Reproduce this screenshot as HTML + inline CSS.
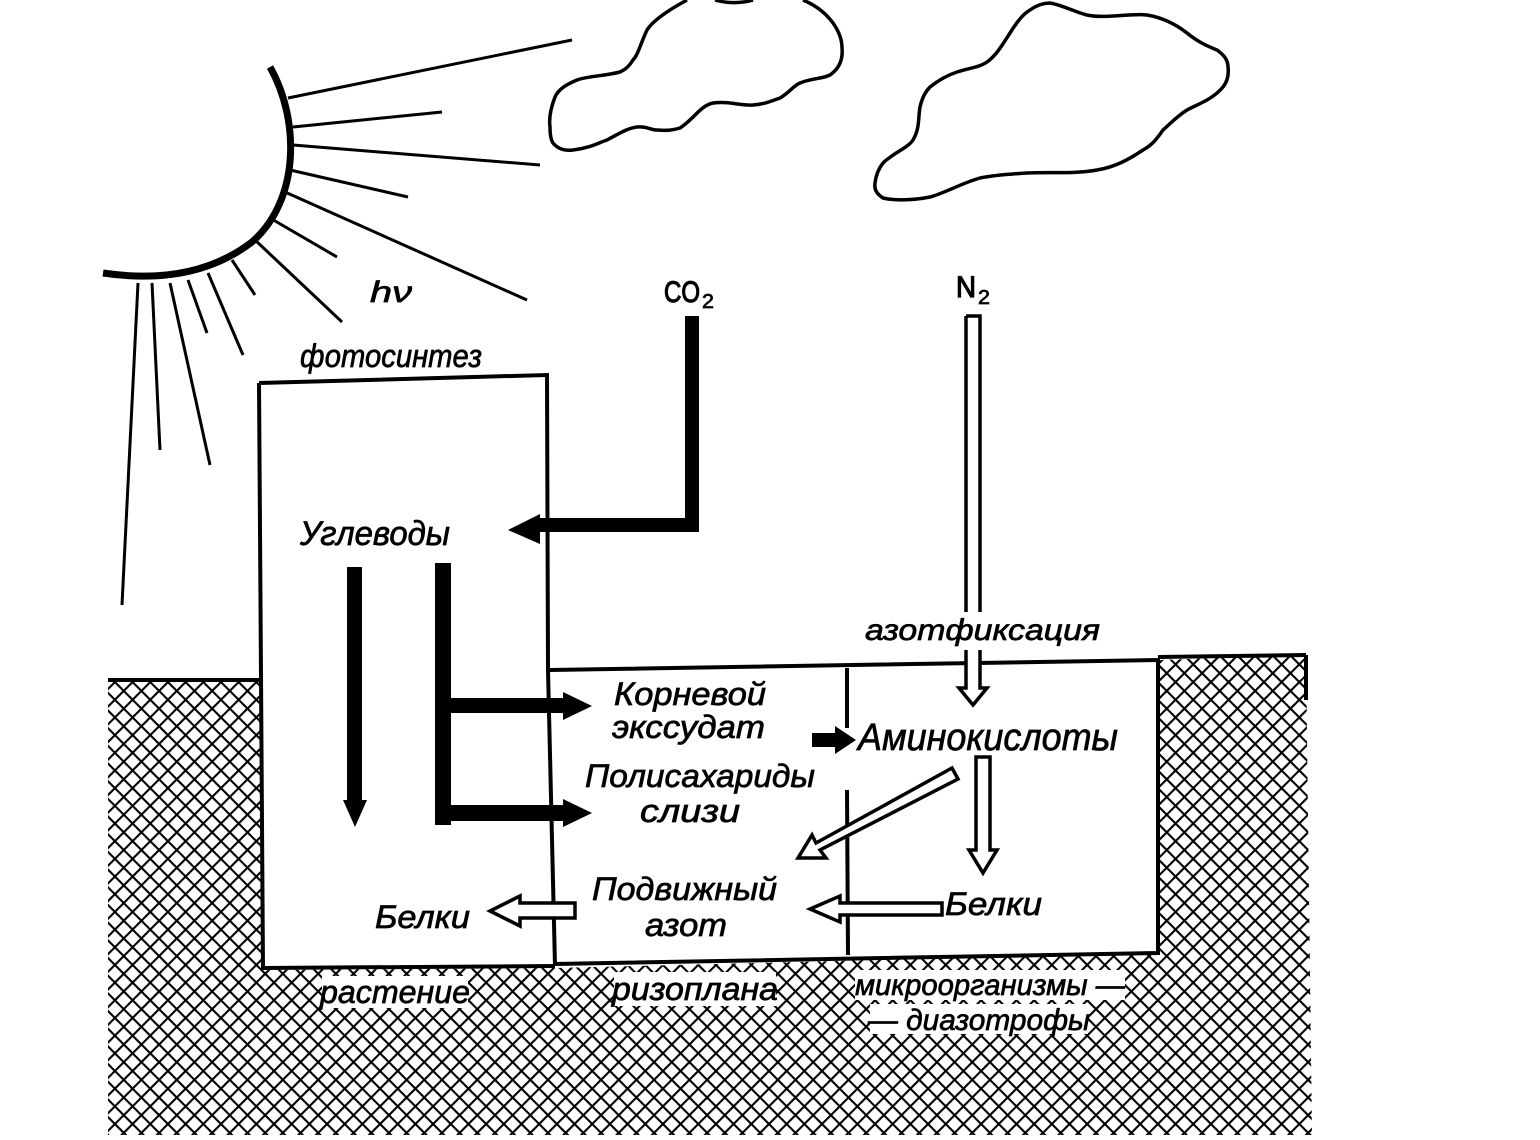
<!DOCTYPE html>
<html><head><meta charset="utf-8"><style>
html,body{margin:0;padding:0;background:#fff;}
svg{display:block;}
text{font-family:"Liberation Sans","DejaVu Sans",sans-serif;font-style:italic;fill:#000;stroke:#000;stroke-width:0.7;}
</style></head><body>
<svg width="1540" height="1140" viewBox="0 0 1540 1140" xmlns="http://www.w3.org/2000/svg">
<defs>
<pattern id="h" width="12.5" height="12.5" patternUnits="userSpaceOnUse" patternTransform="rotate(45)">
<line x1="0" y1="0" x2="0" y2="12.5" stroke="#000" stroke-width="4.2"/>
<line x1="0" y1="0" x2="12.5" y2="0" stroke="#000" stroke-width="4.2"/>
</pattern>
</defs>
<polygon points="108,680 262,680 263,970 555,968 1158,953 1158,660 1306,655 1312,1135 108,1135" fill="url(#h)"/>
<g stroke="#000" stroke-width="4" fill="none">
<line x1="108" y1="680" x2="262" y2="680"/>
<line x1="1158" y1="657" x2="1306" y2="655"/>
<line x1="1306" y1="655" x2="1306" y2="700"/>
<polyline points="259,383 547,375 548,670"/>
<line x1="259" y1="383" x2="263" y2="970"/>
<line x1="263" y1="968" x2="555" y2="966"/>
<line x1="548" y1="670" x2="555" y2="966"/>
<polyline points="550,670 1158,660 1158,953 555,964"/>
<line x1="847" y1="668" x2="847" y2="728"/>
<line x1="847" y1="790" x2="848" y2="955"/>
</g>
<path d="M270,67 C300,120 300,200 252,242 C218,268 170,283 103,273" stroke="#000" stroke-width="7" fill="none"/>
<g stroke="#000" stroke-width="3" fill="none">
<line x1="288" y1="98" x2="572" y2="40"/>
<line x1="293" y1="127" x2="442" y2="112"/>
<line x1="293" y1="145" x2="540" y2="165"/>
<line x1="290" y1="170" x2="408" y2="197"/>
<line x1="285" y1="192" x2="527" y2="300"/>
<line x1="270" y1="218" x2="337" y2="257"/>
<line x1="255" y1="240" x2="342" y2="322"/>
<line x1="232" y1="260" x2="255" y2="295"/>
<line x1="208" y1="273" x2="243" y2="355"/>
<line x1="188" y1="280" x2="207" y2="333"/>
<line x1="170" y1="283" x2="210" y2="465"/>
<line x1="152" y1="283" x2="160" y2="450"/>
<line x1="138" y1="283" x2="122" y2="605"/>
</g>
<g stroke="#000" stroke-width="3.5" fill="none">
<path d="M687,0 C665,12 652,22 647,30 C640,45 638,55 633,60 C628,68 624,70 620,72 C605,76 588,76 577,80 C565,85 558,90 555,97 C550,110 549,120 550,127 C550,135 551,140 553,143 C558,149 565,151 573,150 C590,148 598,143 607,140 C620,133 628,128 637,127 C647,126 650,130 657,130 C668,131 673,130 680,128 C695,118 700,106 713,103 C730,101 740,106 753,105 C765,104 772,101 780,98 C790,92 793,86 800,83 C812,78 822,79 830,75 C840,68 843,58 842,48 C842,38 838,30 833,23 C825,12 815,5 803,0"/>
<path d="M753,0 C740,4 725,3 715,0"/>
<path d="M1050,3 C1062,5 1075,12 1087,15 C1105,19 1130,13 1147,15 C1165,18 1178,26 1187,33 C1198,42 1207,46 1217,50 C1224,55 1228,60 1228,67 C1229,75 1227,82 1223,87 C1212,100 1198,104 1187,110 C1176,117 1170,124 1163,130 C1156,140 1152,145 1143,150 C1128,160 1115,167 1097,170 C1075,174 1050,172 1027,173 C1010,174 995,175 980,178 C962,183 945,193 930,197 C915,200 895,201 883,198 C877,194 874,190 875,183 C876,175 879,168 883,163 C893,153 908,148 913,140 C920,128 918,118 920,107 C922,98 925,92 930,87 C940,79 948,75 957,72 C970,68 980,67 987,62 C997,55 1004,42 1010,33 C1017,22 1023,14 1030,10 C1037,5 1043,3 1050,3 Z"/>
</g>
<path d="M685,316 H699 V532 H540 V518 H685 Z" fill="#000"/>
<polygon points="508,530 540,514 540,544" fill="#000"/>
<rect x="347" y="567" width="15" height="240" fill="#000"/>
<polygon points="343,800 367,800 355,827" fill="#000"/>
<rect x="435" y="563" width="16" height="262" fill="#000"/>
<rect x="435" y="698" width="130" height="15" fill="#000"/>
<polygon points="563,692 592,706 563,720" fill="#000"/>
<rect x="435" y="805" width="130" height="16" fill="#000"/>
<polygon points="563,799 592,813 563,827" fill="#000"/>
<path d="M812,733 H835 V726 L856,740 L835,754 V747 H812 Z" fill="#000"/>
<g stroke="#000" stroke-width="3.5" fill="#fff" stroke-linejoin="miter">
<path d="M966,316 H980 V612 M966,316 V612"/>
<path d="M966,650 V688 H959 L973,705 L987,688 H980 V650"/>
<path d="M976,757 H990 V850 H997 L983,873 L969,850 H976 Z"/>
<path d="M575,903 H520 V896 L490,911 L520,926 V918 H575 Z"/>
<path d="M942,903 H840 V896 L810,909 L840,922 V915 H942 Z"/>
<path d="M952,768 L958,779 L820,850 L826,858 L798,858 L812,835 L816,843 Z"/>
</g>
<text x="370" y="302" font-size="30" textLength="42" lengthAdjust="spacingAndGlyphs">hν</text>
<text x="664" y="302" font-size="30" style="font-style:normal;stroke-width:1.2" textLength="36" lengthAdjust="spacingAndGlyphs">CO</text>
<text x="702" y="308" font-size="20" style="font-style:normal" textLength="12" lengthAdjust="spacingAndGlyphs">2</text>
<text x="956" y="297" font-size="30" style="font-style:normal;stroke-width:1.2" textLength="20" lengthAdjust="spacingAndGlyphs">N</text>
<text x="978" y="304" font-size="20" style="font-style:normal" textLength="12" lengthAdjust="spacingAndGlyphs">2</text>
<text x="300" y="367" font-size="32" textLength="182" lengthAdjust="spacingAndGlyphs">фотосинтез</text>
<text x="300" y="545" font-size="34" textLength="150" lengthAdjust="spacingAndGlyphs">Углеводы</text>
<text x="865" y="640" font-size="30" textLength="235" lengthAdjust="spacingAndGlyphs">азотфиксация</text>
<text x="614" y="705" font-size="32" textLength="152" lengthAdjust="spacingAndGlyphs">Корневой</text>
<text x="612" y="738" font-size="32" textLength="153" lengthAdjust="spacingAndGlyphs">экссудат</text>
<text x="585" y="787" font-size="32" textLength="230" lengthAdjust="spacingAndGlyphs">Полисахариды</text>
<text x="640" y="822" font-size="32" textLength="100" lengthAdjust="spacingAndGlyphs">слизи</text>
<text x="858" y="750" font-size="38" textLength="260" lengthAdjust="spacingAndGlyphs">Аминокислоты</text>
<text x="592" y="900" font-size="32" textLength="185" lengthAdjust="spacingAndGlyphs">Подвижный</text>
<text x="645" y="936" font-size="32" textLength="82" lengthAdjust="spacingAndGlyphs">азот</text>
<text x="375" y="928" font-size="32" textLength="95" lengthAdjust="spacingAndGlyphs">Белки</text>
<text x="945" y="915" font-size="32" textLength="97" lengthAdjust="spacingAndGlyphs">Белки</text>
<g fill="#fff">
<rect x="322" y="976" width="146" height="32"/>
<rect x="614" y="972" width="162" height="34"/>
<rect x="855" y="970" width="270" height="30"/>
<rect x="870" y="1004" width="218" height="30"/>
</g>
<text x="320" y="1003" font-size="32" textLength="150" lengthAdjust="spacingAndGlyphs">растение</text>
<text x="612" y="1000" font-size="32" textLength="166" lengthAdjust="spacingAndGlyphs">ризоплана</text>
<text x="855" y="995" font-size="30" textLength="270" lengthAdjust="spacingAndGlyphs">микроорганизмы —</text>
<text x="868" y="1030" font-size="30" textLength="222" lengthAdjust="spacingAndGlyphs">— диазотрофы</text>
</svg>
</body></html>
